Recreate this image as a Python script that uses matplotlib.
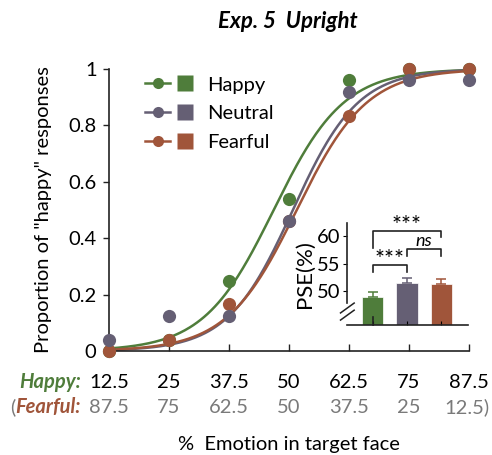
import numpy as np
import matplotlib
matplotlib.use("Agg")
import matplotlib.pyplot as plt
from matplotlib.lines import Line2D
from matplotlib.legend_handler import HandlerTuple

plt.rcParams['font.family'] = ['Lato', 'DejaVu Sans']

# ---- data ----
happy_pct = [12.5, 25, 37.5, 50, 62.5, 75, 87.5]
fearful_pct = [87.5, 75, 62.5, 50, 37.5, 25, 12.5]
series_names = ["Happy", "Neutral", "Fearful"]
happy_resp = [0.0, 0.04, 0.25, 0.54, 0.96, 1.0, 1.0]
neutral_resp = [0.04, 0.125, 0.125, 0.46, 0.92, 0.96, 0.96]
fearful_resp = [0.0, 0.04, 0.165, 0.46, 0.835, 1.0, 1.0]
fit_pse = [46.8, 50.8, 51.6]
fit_slope = [7.3, 6.8, 7.3]
yticks = [0, 0.2, 0.4, 0.6, 0.8, 1]
ytick_labels = ["0", "0.2", "0.4", "0.6", "0.8", "1"]

pse_mean = [48.95, 51.45, 51.3]
pse_err = [0.9, 0.95, 0.95]
pse_ticks = [50, 55, 60]

colors = ["#4f7d3b", "#655f74", "#a0553a"]
gray = "#7a7a7a"
FS = 14.5

fig = plt.figure(figsize=(4.92, 4.55), dpi=100)
ax = fig.add_axes([109/492, 1-351/455, 360/492, 282/455])

resp = [happy_resp, neutral_resp, fearful_resp]
order = [0, 2, 1]
xs = np.linspace(happy_pct[0], happy_pct[-1], 300)
for i in order:
    ys = 1/(1+np.exp(-(xs-fit_pse[i])/fit_slope[i]))
    ax.plot(xs, ys, color=colors[i], lw=1.8, zorder=2+i*0.1, clip_on=False)
for i in order:
    ax.plot(happy_pct, resp[i], 'o', color=colors[i], ms=9.5, mec='none',
            zorder=3, clip_on=False)

ax.set_xlim(12.5, 87.5)
ax.set_ylim(0, 1)
ax.spines['top'].set_visible(False)
ax.spines['right'].set_visible(False)
for s in ['left', 'bottom']:
    ax.spines[s].set_linewidth(1.2)
    ax.spines[s].set_color('#222222')
ax.set_xticks(happy_pct)
ax.set_xticklabels([])
ax.tick_params(axis='x', direction='in', length=5, width=1, color='#222222')
ax.set_yticks(yticks)
ax.set_yticklabels(ytick_labels, fontsize=FS)
ax.tick_params(axis='y', direction='out', length=4, width=1, pad=5, color='#222222')
ax.set_ylabel('Proportion of "happy" responses', fontsize=FS, labelpad=12)

tr = ax.get_xaxis_transform()
n = len(happy_pct)
for k, (xv, hl, fl) in enumerate(zip(happy_pct, happy_pct, fearful_pct)):
    ax.text(xv, -0.11, f"{hl:g}", transform=tr, ha='center', va='center',
            fontsize=FS, color='black')
    if k < n - 1:
        ax.text(xv, -0.199, f"{fl:g}", transform=tr, ha='center', va='center',
                fontsize=FS, color=gray)
    else:
        ax.text(xv + 4.3, -0.199, f"{fl:g})", transform=tr, ha='right', va='center',
                fontsize=FS, color=gray)
ax.text(6.7, -0.11, "Happy:", transform=tr, ha='right', va='center',
        fontsize=FS, color=colors[0], fontweight='bold', fontstyle='italic')
ax.text(6.7, -0.199, "Fearful:", transform=tr, ha='right', va='center',
        fontsize=FS, color=colors[2], fontweight='bold', fontstyle='italic')
ax.text(-7.1, -0.199, "(", transform=tr, ha='right', va='center',
        fontsize=FS, color=gray)
ax.text(50, -0.333, "%  Emotion in target face", transform=tr, ha='center',
        va='center', fontsize=FS)

fig.text(288/492, 1-21/455, "Exp. 5  Upright", ha='center', va='center',
         fontsize=16, fontweight='bold', fontstyle='italic')

handles = [(Line2D([], [], color=c, marker='o', ms=8, mec='none', lw=1.8),
            Line2D([], [], color=c, marker='s', ms=12, mec='none', ls='none'))
           for c in colors]
ax.legend(handles, series_names, handler_map={tuple: HandlerTuple(ndivide=None, pad=0.1)},
          loc='upper left', bbox_to_anchor=(0.05, 1.04), frameon=False,
          fontsize=FS, handlelength=2.6, handleheight=0.8, labelspacing=0.55,
          handletextpad=0.5)

# ---- inset ----
ia = fig.add_axes([347/492, 1-325/455, 121/492, 102/455])
bx = np.arange(len(pse_mean))
ia.bar(bx, pse_mean, width=0.62, color=colors, edgecolor='white', lw=0.5)
for i in range(len(pse_mean)):
    ia.errorbar(bx[i], pse_mean[i], yerr=[[0], [pse_err[i]]], fmt='none',
                ecolor=colors[i], elinewidth=1.1, capsize=3.5, capthick=1.1)
ia.set_xlim(-0.76, 2.79)
ia.set_ylim(43.8, 62.4)
ia.spines['top'].set_visible(False)
ia.spines['right'].set_visible(False)
ia.spines['left'].set_bounds(47.8, 62.4)
for s in ['left', 'bottom']:
    ia.spines[s].set_linewidth(1.2)
    ia.spines[s].set_color('#222222')
ia.set_yticks(pse_ticks)
ia.set_yticklabels([str(t) for t in pse_ticks], fontsize=FS)
ia.tick_params(axis='y', direction='out', length=3, pad=2)
ia.set_xticks(bx)
ia.set_xticklabels([])
ia.tick_params(axis='x', direction='in', length=3)
ia.set_ylabel("PSE(%)", fontsize=16, labelpad=1)
# axis break
ia.plot([0, 0], [43.8, 45.3], color='#222222', lw=1.2, clip_on=False)
for yb in [45.6, 46.9]:
    ia.plot([-0.95, -0.55], [yb - 0.9, yb + 0.9], color='#222222', lw=1.1, clip_on=False,
            transform=ia.transData)

def bracket(x0, x1, y, l0, l1, label, italic=False):
    ia.plot([x0, x0, x1, x1], [l0, y, y, l1], color='#222222', lw=1.2, clip_on=False)
    ia.text((x0+x1)/2, y + (0.15 if italic else -0.9), label, ha='center', va='bottom',
            fontsize=13 if italic else 17, fontstyle='italic' if italic else 'normal')

bracket(bx[0], bx[1], 54.7, 53.5, 53.5, "***")
bracket(bx[1], bx[2], 57.6, 56.4, 56.4, "ns", italic=True)
bracket(bx[0], bx[2], 60.9, 57.8, 59.9, "***")

fig.savefig("out.png", dpi=100)
